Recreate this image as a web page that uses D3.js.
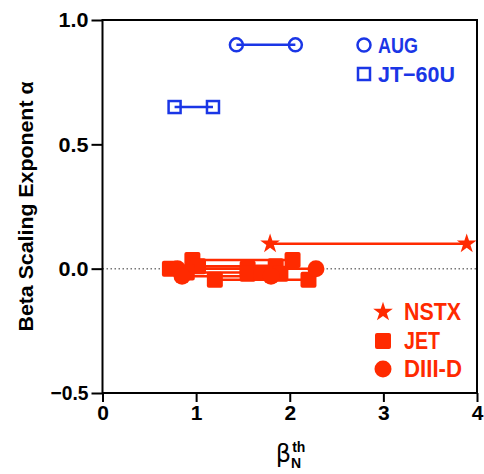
<!DOCTYPE html>
<html>
<head>
<meta charset="utf-8">
<script src="https://cdn.jsdelivr.net/npm/d3@7"></script>
<style>
  body { margin: 0; background: #fff; }
  text { font-family: "Liberation Sans Narrow", "Liberation Sans", Arial, sans-serif; font-weight: bold; }
</style>
</head>
<body>
<svg id="chart"></svg>
<script>
const W = 484, H = 474
const RED = "#ff2a00", BLUE = "#1a36e6"

// each segment: beta range [lo, hi] at a given alpha
const augSegs = [{lo: 1.43, hi: 2.06, alpha: 0.90}]
const jtSegs = [{lo: 0.77, hi: 1.18, alpha: 0.65}]
const nstxSegs = [{lo: 1.79, hi: 3.89, alpha: 0.10}]
const jetSegs = [
  {lo: 0.72, hi: 1.55, alpha: 0.00},
  {lo: 0.96, hi: 2.03, alpha: 0.035},
  {lo: 1.02, hi: 1.85, alpha: 0.01},
  {lo: 1.20, hi: 2.20, alpha: -0.045},
  {lo: 1.55, hi: 1.90, alpha: -0.02},
  {lo: 0.90, hi: 1.70, alpha: -0.015}
]
const diiidSegs = [
  {lo: 0.80, hi: 2.28, alpha: 0.00},
  {lo: 0.85, hi: 1.80, alpha: -0.03}
]
const xTicks = [0, 1, 2, 3, 4]
const yTicks = [-0.5, 0.0, 0.5, 1.0]

const svg = d3.select("#chart").attr("width", W).attr("height", H)

const x = d3.scaleLinear().domain([0, 4]).range([102.5, 477])
const y = d3.scaleLinear().domain([-0.5, 1.0]).range([393, 20])

// zero reference line
svg.append("line")
  .attr("x1", x(0)).attr("x2", x(4))
  .attr("y1", y(0)).attr("y2", y(0))
  .attr("stroke", "#777").attr("stroke-width", 1.5)
  .attr("stroke-dasharray", "1.5,2.5")

// frame
svg.append("rect")
  .attr("x", x(0)).attr("y", y(1))
  .attr("width", x(4) - x(0)).attr("height", y(-0.5) - y(1))
  .attr("fill", "none").attr("stroke", "#000").attr("stroke-width", 2)

const xAxis = svg.append("g")
  .attr("transform", `translate(0,${y(-0.5)})`)
  .call(d3.axisBottom(x).tickValues(xTicks).tickFormat(d3.format("d")).tickSize(9).tickPadding(3))
xAxis.select(".domain").remove()
xAxis.selectAll("line").attr("stroke-width", 2)
xAxis.selectAll("text").attr("font-size", 21).attr("fill", "#000")

const yAxis = svg.append("g")
  .attr("transform", `translate(${x(0)},0)`)
  .call(d3.axisLeft(y).tickValues(yTicks).tickFormat(d3.format(".1f")).tickSize(11).tickPadding(3))
yAxis.select(".domain").remove()
yAxis.selectAll("line").attr("stroke-width", 2)
yAxis.selectAll("text").attr("font-size", 21).attr("fill", "#000")
  .attr("textLength", d => d < 0 ? 38 : 30).attr("lengthAdjust", "spacingAndGlyphs")
  .text(d => d < 0 ? "\u2212" + Math.abs(d).toFixed(1) : d.toFixed(1))

// axis titles
svg.append("text")
  .attr("transform", `translate(33,${(y(1) + y(-0.5)) / 2}) rotate(-90)`)
  .attr("text-anchor", "middle").attr("font-size", 21)
  .attr("textLength", 250).attr("lengthAdjust", "spacingAndGlyphs")
  .text("Beta Scaling Exponent α")

const xl = svg.append("text").attr("x", x(2) - 14).attr("y", 462).attr("font-size", 24)
xl.append("tspan").attr("font-weight", "normal").attr("font-family", "DejaVu Sans").text("β")
xl.append("tspan").attr("font-size", 14).attr("dy", 6).text("N")
xl.append("tspan").attr("font-size", 14).attr("dx", -9).attr("dy", -16).text("th")

// marker helpers
const star = d3.symbol().type(d3.symbolStar).size(120)

function drawSegs(segs, color, shape, filled) {
  const g = svg.append("g")
  g.selectAll("line").data(segs).join("line")
    .attr("x1", d => x(d.lo)).attr("x2", d => x(d.hi))
    .attr("y1", d => y(d.alpha)).attr("y2", d => y(d.alpha))
    .attr("stroke", color).attr("stroke-width", 2.5)
  const pts = segs.flatMap(d => [{b: d.lo, a: d.alpha}, {b: d.hi, a: d.alpha}])
  drawMarkers(g, pts.map(p => [x(p.b), y(p.a)]), color, shape, filled)
}

function drawMarkers(g, coords, color, shape, filled) {
  const sel = g.selectAll(".m").data(coords).join(shape === "circle" ? "circle" : shape === "square" ? "rect" : "path")
    .attr("class", "m")
    .attr("fill", filled ? color : "none")
    .attr("stroke", color).attr("stroke-width", filled ? 0 : 2.5)
  if (shape === "circle") {
    sel.attr("cx", d => d[0]).attr("cy", d => d[1]).attr("r", filled ? 8.5 : 6.5)
  } else if (shape === "square") {
    const s = filled ? 16 : 12
    sel.attr("x", d => d[0] - s / 2).attr("y", d => d[1] - s / 2).attr("width", s).attr("height", s)
      .attr("rx", filled ? 2 : 0)
  } else {
    sel.attr("d", star).attr("transform", d => `translate(${d[0]},${d[1]})`)
  }
}

drawSegs(augSegs, BLUE, "circle", false)
drawSegs(jtSegs, BLUE, "square", false)
drawSegs(jetSegs, RED, "square", true)
drawSegs(diiidSegs, RED, "circle", true)
drawSegs(nstxSegs, RED, "star", true)

// legends
const legendTop = [
  {name: "AUG", shape: "circle", y: 45},
  {name: "JT\u221260U", shape: "square", y: 74}
]
const legendBottom = [
  {name: "NSTX", shape: "star", y: 312},
  {name: "JET", shape: "square", y: 341},
  {name: "DIII-D", shape: "circle", y: 369}
]
legendTop.forEach(l => {
  const g = svg.append("g")
  drawMarkers(g, [[364, l.y]], BLUE, l.shape, false)
  g.append("text").attr("x", 378).attr("y", l.y + 8).attr("font-size", 22).attr("fill", BLUE)
    .attr("textLength", l.name.length === 3 ? 40 : 77).attr("lengthAdjust", "spacingAndGlyphs").text(l.name)
})
legendBottom.forEach(l => {
  const g = svg.append("g")
  drawMarkers(g, [[383, l.y]], RED, l.shape, true)
  g.append("text").attr("x", 404).attr("y", l.y + 8).attr("font-size", 23).attr("fill", RED)
    .attr("textLength", {NSTX: 57, JET: 36, "DIII-D": 58}[l.name]).attr("lengthAdjust", "spacingAndGlyphs").text(l.name)
})
</script>
</body>
</html>
